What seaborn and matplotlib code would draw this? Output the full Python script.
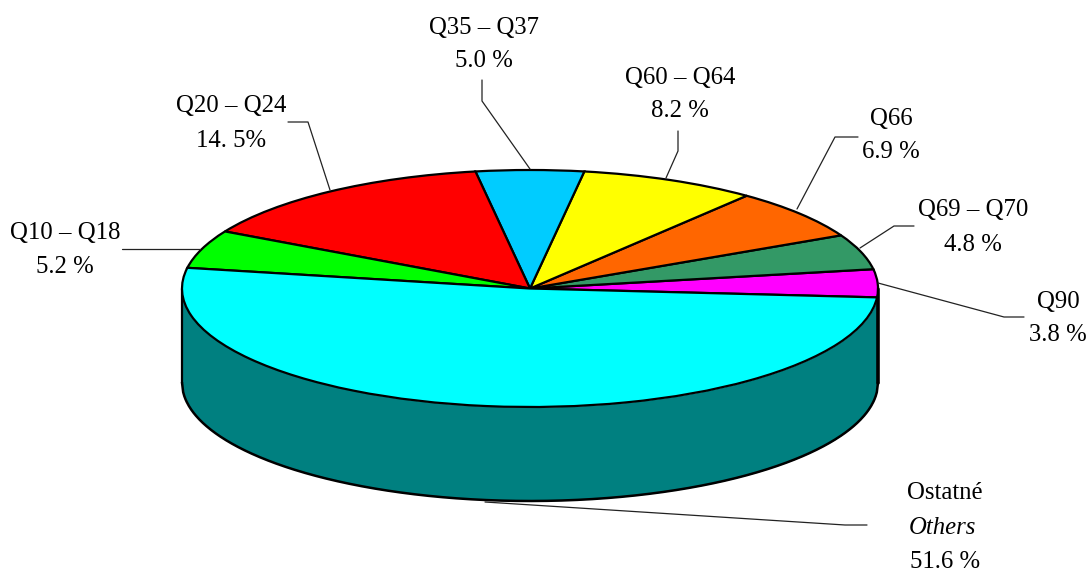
import numpy as np
import matplotlib
matplotlib.use('Agg')
import matplotlib.pyplot as plt
import seaborn as sns

# shares, counter clockwise from the right edge of the pie
names = ['Q90', 'Q69 – Q70', 'Q66', 'Q60 – Q64', 'Q35 – Q37', 'Q20 – Q24', 'Q10 – Q18', 'Ostatné']
shares = [3.8, 4.8, 6.9, 8.2, 5.0, 14.5, 5.2, 51.6]
share_labels = ['3.8 %', '4.8 %', '6.9 %', '8.2 %', '5.0 %', '14. 5%', '5.2 %', '51.6 %']
slice_colors = ['#FF00FF', '#339966', '#FF6600', '#FFFF00', '#00CCFF', '#FF0000', '#00FF00', '#00FFFF']
side_color = '#008080'

W, H = 1091, 571
CX, CY, RX, RY = 530, 288.5, 348, 118.5
DEPTH = 94 / RY
FONT = 17.8

sns.set_theme(style='white')
plt.rcParams['font.family'] = ['Liberation Serif', 'DejaVu Serif']

fig = plt.figure(figsize=(W / 100, H / 100), dpi=100)
ax = fig.add_axes([0, 0, 1, 1])

ax.pie(shares, colors=sns.color_palette(slice_colors), startangle=-4.3, counterclock=True,
       wedgeprops={'edgecolor': 'black', 'linewidth': 1.6, 'zorder': 3})

# the pie squashes into an ellipse once the aspect is released
ax.set_aspect('auto')
ax.set_xlim((0 - CX) / RX, (W - CX) / RX)
ax.set_ylim((CY - H) / RY, CY / RY)
ax.axis('off')


def px(x, y):
    return (x - CX) / RX, (CY - y) / RY


# side wall below the top face
rim_x = np.linspace(-1, 1, 600)
rim_y = -np.sqrt(1 - rim_x ** 2)
ax.fill_between(rim_x, rim_y - DEPTH, rim_y, color=side_color, linewidth=0, zorder=1)
ax.plot(rim_x, rim_y - DEPTH, color='black', lw=1.8, zorder=2)
ax.plot([-1, -1], [0, -DEPTH], color='black', lw=1.6, zorder=2)
ax.plot([1, 1], [0, -DEPTH], color='black', lw=2.6, zorder=2)

# leader lines, picture pixels
leaders = {
    'Q90': [(1024, 317), (1004, 317), (878, 283)],
    'Q69 – Q70': [(914, 226), (894, 226), (860, 248)],
    'Q66': [(858, 137), (835, 137), (797, 209)],
    'Q60 – Q64': [(678, 131), (678, 151), (666, 178)],
    'Q35 – Q37': [(482, 80), (482, 101), (530, 169)],
    'Q20 – Q24': [(288, 122), (308, 122), (330, 190)],
    'Q10 – Q18': [(122, 249), (200, 249)],
    'Ostatné': [(867, 525), (845, 525), (485, 502)],
}
for name in names:
    pts = [px(x, y) for x, y in leaders[name]]
    ax.plot([p[0] for p in pts], [p[1] for p in pts], color='#222222', lw=0.9, zorder=4)

# label centres, picture pixels: name line and value line
label_pos = {
    'Q90': (1058, 302, 335),
    'Q69 – Q70': (973, 210, 245),
    'Q66': (891, 119, 152),
    'Q60 – Q64': (680, 78, 111),
    'Q35 – Q37': (484, 28, 61),
    'Q20 – Q24': (231, 106, 141),
    'Q10 – Q18': (65, 233, 267),
    'Ostatné': (945, 493, 562),
}
for name, value in zip(names, share_labels):
    x, y_name, y_value = label_pos[name]
    ax.text(*px(x, y_name), name, ha='center', va='center', fontsize=FONT, color='black')
    ax.text(*px(x, y_value), value, ha='center', va='center', fontsize=FONT, color='black')
ax.text(*px(942, 528), 'Others', ha='center', va='center', fontsize=FONT, style='italic', color='black')

fig.savefig('out.png', dpi=100, facecolor='white')
